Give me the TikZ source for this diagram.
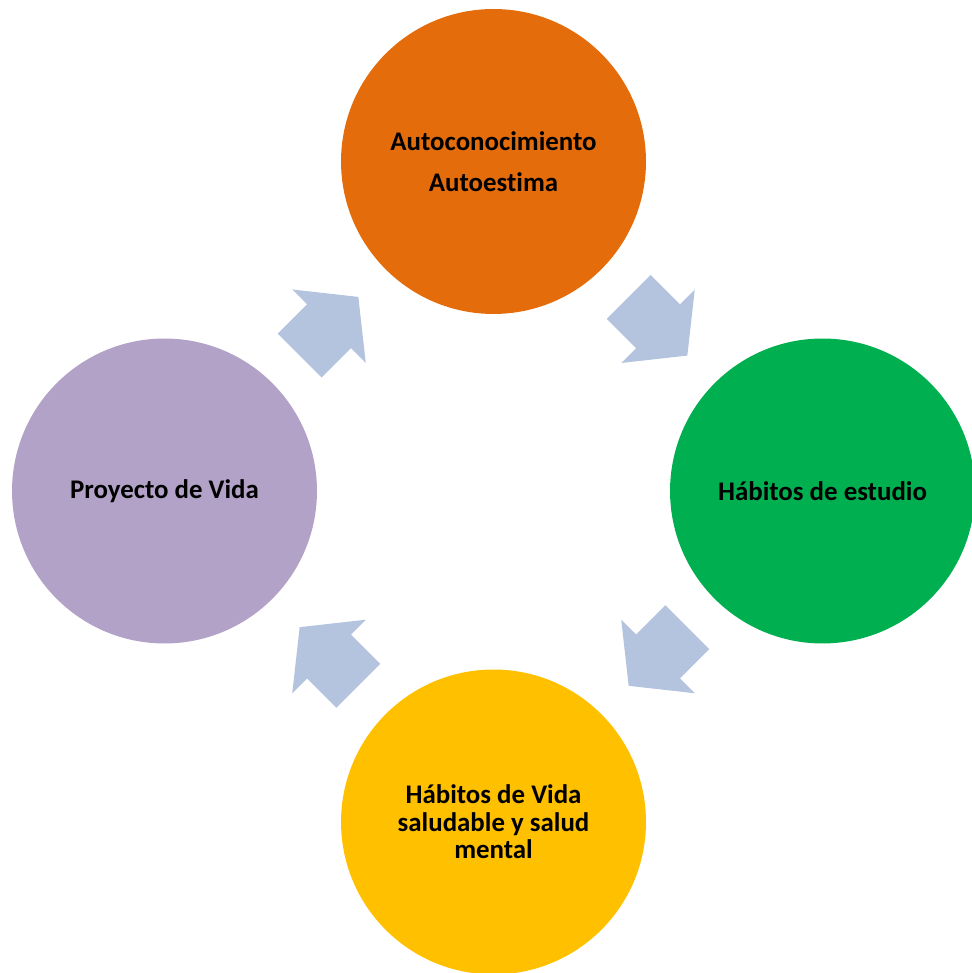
\documentclass[tikz,border=0pt]{standalone}
\usepackage{fontspec}
\setmainfont{Carlito}[Ligatures={NoCommon,NoRare}]
\usetikzlibrary{calc}
\definecolor{naranja}{HTML}{E46C0A}
\definecolor{verde}{HTML}{00B050}
\definecolor{amarillo}{HTML}{FFC000}
\definecolor{lila}{HTML}{B3A2C7}
\definecolor{celeste}{HTML}{B4C4DF}

\begin{document}
\begin{tikzpicture}[x=0.02cm, y=0.02cm,
  every node/.style={font=\fontsize{15.3}{18}\selectfont\bfseries},
  circulo/.style={circle, minimum size=6.1cm, inner sep=0pt, align=center},
  flecha/.pic={
    \fill[celeste] (-41.5,-31) -- (0,-31) -- (0,-52) -- (41.5,0)
      -- (0,52) -- (0,31) -- (-41.5,31) -- cycle;
  }]
  \useasboundingbox (0,0) rectangle (972,973);
  \node[circulo, fill=naranja] (auto) at (493.5,811.5)
    {Autoconocimiento\\[5pt]Autoestima};
  \node[circulo, fill=verde] (estudio) at (822.5,482) {H\'abitos de estudio};
  \node[circulo, fill=amarillo, font=\fontsize{15.3}{15.7}\selectfont\bfseries]
    (salud) at (493.5,151) {H\'abitos de Vida\\saludable y salud\\mental};
  \node[circulo, fill=lila] (vida) at (164.5,482) {Proyecto de Vida};
  % flechas entre circulos
  \pic[rotate=-45] at ($(auto)!0.5!(estudio)$) {flecha};
  \pic[rotate=-135] at ($(estudio)!0.5!(salud)$) {flecha};
  \pic[rotate=135] at ($(salud)!0.5!(vida)$) {flecha};
  \pic[rotate=45] at ($(vida)!0.5!(auto)$) {flecha};
\end{tikzpicture}
\end{document}
